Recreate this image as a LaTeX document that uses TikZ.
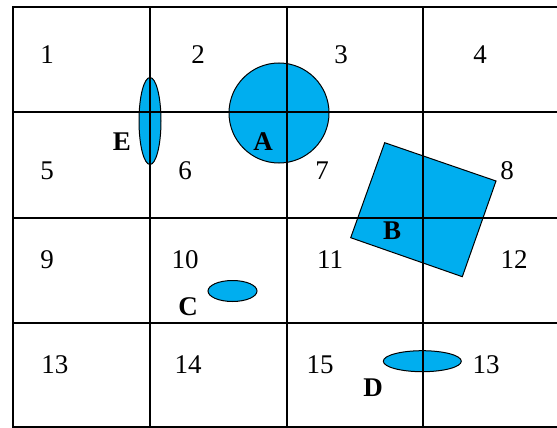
\documentclass[tikz,border=0pt]{standalone}
\usepackage{fontspec}
\setmainfont{Liberation Serif}
\definecolor{regionblue}{HTML}{00AEEF}
\begin{document}
\begin{tikzpicture}[x=1pt,y=-1pt,
	cell/.style={ font=\fontsize{27}{27}\selectfont, inner sep=0pt },
	tag/.style={ font=\fontsize{27}{27}\selectfont\bfseries, inner sep=0pt },
	blob/.style={ fill=regionblue, draw=black, line width=1pt },
	gridline/.style={ line width=1.8pt }
]
\useasboundingbox (0,0) rectangle (557,428);

% regions
\draw[blob] (279,113) circle (50pt);
\draw[blob] (150,121) ellipse [x radius=11pt, y radius=43.5pt];
\draw[blob] (384.7,142.7) -- (496,181) -- (462.3,276.7) -- (350.7,237.7) -- cycle;
\draw[blob] (232.5,291) ellipse [x radius=24.5pt, y radius=10.5pt];
\draw[blob] (422.3,361.2) ellipse [x radius=39pt, y radius=10.5pt];

% grid
\draw[gridline] (557,7) -- (13,7) -- (13,427) -- (557,427);
\foreach \x in {150,287,423}
	\draw[gridline] (\x,7) -- (\x,427);
\foreach \y in {112,218,323}
	\draw[gridline] (13,\y) -- (557,\y);

% cell numbers
\foreach \n/\x/\y/\t in {1/47/55/1, 2/198/55/2, 3/341/55/3, 4/480/55/4,
		5/47/171/5, 6/185/171/6, 7/322/171/7, 8/507/171/8,
		9/47/260/9, 10/185/260/10, 11/330/260/11, 12/514/260/12,
		13/55/365/13, 14/188/365/14, 15/320/365/15, 16/486/365/13}
	\node[cell] (c\n) at (\x,\y) {\t};

% region names
\node[tag] (e) at (122,142) {E};
\node[tag] (a) at (263,142) {A};
\node[tag] (b) at (392,231) {B};
\node[tag] (c) at (188,307) {C};
\node[tag] (d) at (373,388) {D};

\end{tikzpicture}
\end{document}
